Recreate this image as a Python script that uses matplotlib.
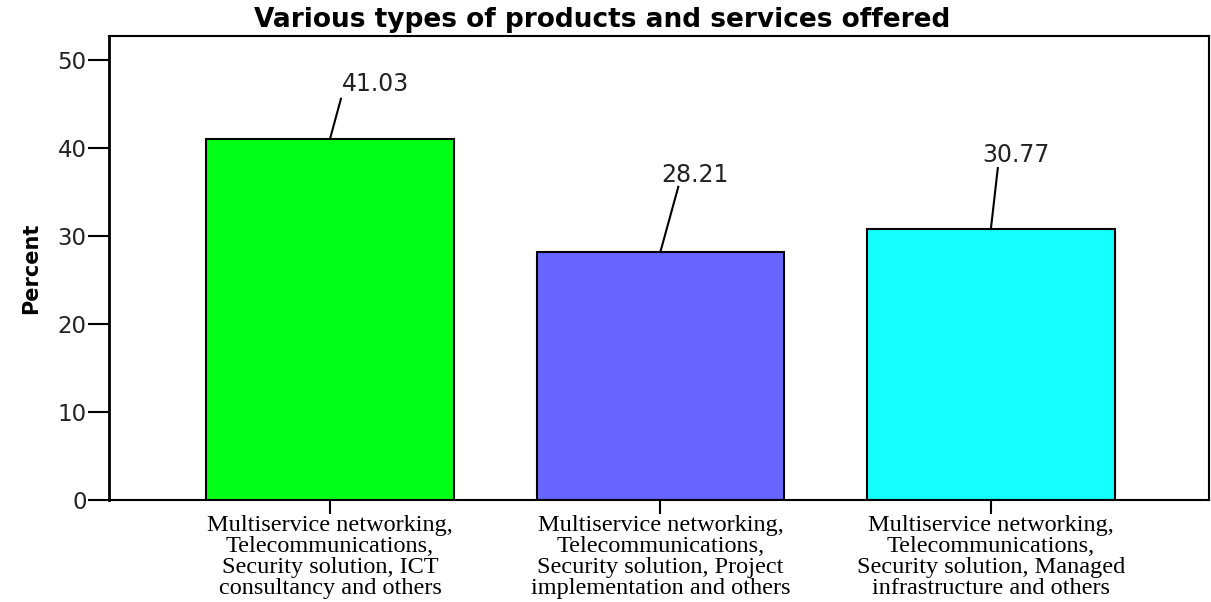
import numpy as np
import matplotlib.pyplot as plt

categories = [
    "Multiservice networking,\nTelecommunications,\nSecurity solution, ICT\nconsultancy and others",
    "Multiservice networking,\nTelecommunications,\nSecurity solution, Project\nimplementation and others",
    "Multiservice networking,\nTelecommunications,\nSecurity solution, Managed\ninfrastructure and others",
]
percent = [41.03, 28.21, 30.77]
bar_colors = ["#00ff14", "#6666ff", "#14ffff"]

# leader line end / label centre, as offsets from the bar top (x in bar units, y in percent)
line_off = [(0.033, 4.54), (0.054, 7.36), (0.021, 6.93)]
text_off = [(0.139, 6.17), (0.103, 8.69), (0.076, 8.43)]

fig = plt.figure(figsize=(12.11, 6.02), dpi=100)
ax = fig.add_axes([0.09, 0.1694, 0.9083, 0.7708])

x = np.arange(len(categories))
ax.bar(x, percent, width=0.75, color=bar_colors, edgecolor="black", linewidth=1.5)

for i, v in enumerate(percent):
    lx, ly = line_off[i]
    tx, ty = text_off[i]
    ax.plot([x[i], x[i] + lx], [v, v + ly], color="black", linewidth=1.5)
    ax.text(x[i] + tx, v + ty, f"{v:.2f}", ha="center", va="center",
            fontsize=17, color="#222222")

ax.set_xlim(-0.669, 2.66)
ax.set_ylim(0, 52.7)
ax.set_yticks([0, 10, 20, 30, 40, 50])
ax.set_xticks(x)
ax.set_xticklabels(categories, family="Liberation Serif", fontsize=17.5,
                   linespacing=1.0)
ax.tick_params(axis="y", length=15, width=1.5, labelsize=16.5, pad=1,
               labelcolor="#222222")
ax.tick_params(axis="x", length=10, width=1.5, pad=0.5)
for s in ax.spines.values():
    s.set_linewidth(1.5)
ax.spines["left"].set_linewidth(2)

ax.set_ylabel("Percent", fontsize=15, fontweight="bold", labelpad=12)
fig.text(0.497, 0.967, "Various types of products and services offered",
         ha="center", va="center", fontsize=19, fontweight="bold")

plt.savefig("out.png", dpi=100)
